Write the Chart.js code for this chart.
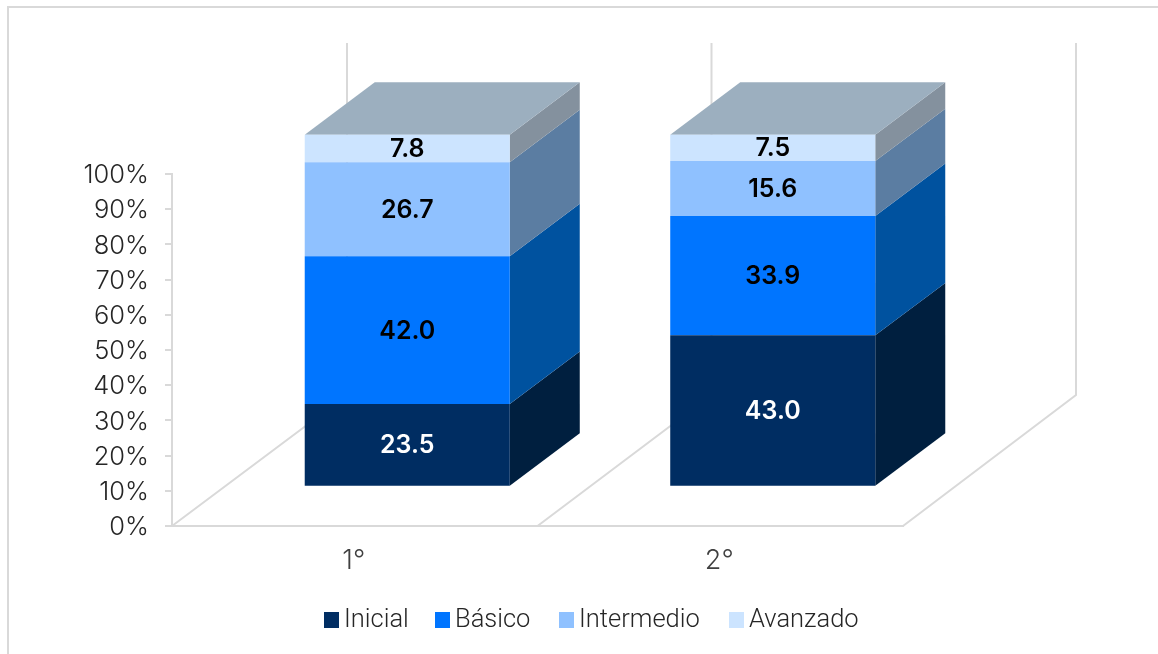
<!DOCTYPE html>
<html>
<head>
<meta charset="utf-8">
<script src="https://cdn.jsdelivr.net/npm/chart.js@4"></script>
<style>
html, body { margin: 0; padding: 0; background: #fff; }
#wrap { position: relative; width: 1158px; height: 654px; overflow: hidden; }
#marco { position: absolute; left: 7px; top: 6px; width: 1200px; height: 800px; border: 2px solid #d9d9d9; box-sizing: border-box; }
canvas { position: absolute; left: 0; top: 0; }
</style>
</head>
<body>
<div id="wrap">
<div id="marco"></div>
<canvas id="chart" width="1158" height="654"></canvas>
</div>
<script>
const grados = ['1°', '2°'];
const inicial = [23.5, 43.0];
const basico = [42.0, 33.9];
const intermedio = [26.7, 15.6];
const avanzado = [7.8, 7.5];
const nombres = ['Inicial', 'Básico', 'Intermedio', 'Avanzado'];
const colores = ['#002d62', '#0075ff', '#8fc1ff', '#cce4ff'];
const lados = ['#001f3f', '#00529f', '#5b7da2', '#84919e'];
const colorTecho = '#9cafbf';
const colorTextos = ['#ffffff', '#000000', '#000000', '#000000'];
const colorLinea = '#d9d9d9';

// fondo de la caja: vector de profundidad del piso (se cierra un poco a la derecha)
const fondosX = [175, 174, 173];
const fondoY = -131;
// la barra va del 30% al 70% de la profundidad
const corrX = 175 * 0.3;
const corrY = fondoY * 0.3;
const profX = 175 * 0.4;
const profY = fondoY * 0.4;

const fuente = '"Inter", sans-serif';

function poligono(ctx, puntos, color) {
    ctx.beginPath();
    ctx.moveTo(puntos[0][0], puntos[0][1]);
    for (let i = 1; i < puntos.length; i++) ctx.lineTo(puntos[i][0], puntos[i][1]);
    ctx.closePath();
    ctx.fillStyle = color;
    ctx.fill();
}

// paredes y piso
const caja = {
    id: 'caja',
    beforeDatasetsDraw(chart) {
        const { ctx, chartArea: { left, right, top, bottom } } = chart;
        const { x } = chart.scales;
        const esquinas = [left, (x.getPixelForValue(0) + x.getPixelForValue(1)) / 2, right];
        ctx.save();
        ctx.strokeStyle = colorLinea;
        ctx.lineWidth = 2;
        esquinas.forEach((px, i) => {
            ctx.beginPath();
            ctx.moveTo(px, bottom);
            ctx.lineTo(px + fondosX[i], bottom + fondoY);
            ctx.lineTo(px + fondosX[i], top + fondoY);
            ctx.stroke();
        });
        ctx.restore();
    }
};

// mueve las barras dentro de la caja y les pone lado y techo
const barras3d = {
    id: 'barras3d',
    beforeDatasetsDraw(chart) {
        const { ctx } = chart;
        ctx.save();
        ctx.translate(corrX, corrY);
        chart.data.datasets.forEach((ds, d) => {
            chart.getDatasetMeta(d).data.forEach(bar => {
                const { x, y, base, width } = bar.getProps(['x', 'y', 'base', 'width'], true);
                const der = x + width / 2;
                const izq = x - width / 2;
                poligono(ctx, [[der, y], [der + profX, y + profY], [der + profX, base + profY], [der, base]], lados[d]);
                if (d === chart.data.datasets.length - 1) {
                    poligono(ctx, [[izq, y], [izq + profX, y + profY], [der + profX, y + profY], [der, y]], colorTecho);
                }
            });
        });
    },
    afterDatasetsDraw(chart) {
        const { ctx } = chart;
        ctx.font = '600 25px ' + fuente;
        ctx.textAlign = 'center';
        ctx.textBaseline = 'middle';
        chart.data.datasets.forEach((ds, d) => {
            chart.getDatasetMeta(d).data.forEach((bar, i) => {
                const { x, y, base } = bar.getProps(['x', 'y', 'base'], true);
                ctx.fillStyle = colorTextos[d];
                ctx.fillText(ds.data[i].toFixed(1), x, (y + base) / 2 + 1);
            });
        });
        ctx.restore();
    }
};

const leyenda = {
    id: 'leyenda',
    afterDraw(chart) {
        const { ctx } = chart;
        const posiciones = [324, 435, 559, 729];
        ctx.save();
        ctx.font = '300 25.5px "Roboto", sans-serif';
        ctx.textBaseline = 'middle';
        ctx.textAlign = 'left';
        chart.data.datasets.forEach((ds, d) => {
            ctx.fillStyle = ds.backgroundColor;
            ctx.fillRect(posiciones[d], 612, 15, 16);
            ctx.fillStyle = '#262626';
            ctx.fillText(ds.label, posiciones[d] + 20, 621);
        });
        ctx.restore();
    }
};

const series = [inicial, basico, intermedio, avanzado];

new Chart(document.getElementById('chart'), {
    type: 'bar',
    data: {
        labels: grados,
        datasets: series.map((valores, d) => ({
            label: nombres[d],
            data: valores,
            backgroundColor: colores[d],
            clip: false
        }))
    },
    options: {
        responsive: false,
        animation: false,
        barPercentage: 0.561,
        categoryPercentage: 1,
        layout: { padding: { left: 8, right: 255, top: 174, bottom: 0 } },
        plugins: {
            legend: { display: false },
            tooltip: { enabled: false }
        },
        scales: {
            x: {
                stacked: true,
                afterFit(axis) { axis.height = 128; },
                grid: { display: false },
                border: { color: colorLinea, width: 2 },
                ticks: { color: '#404040', padding: 11, labelOffset: -1, font: { family: fuente, size: 27, weight: 300 } }
            },
            y: {
                stacked: true,
                min: 0,
                max: 100,
                afterFit(axis) { axis.width = 164; },
                grid: { drawOnChartArea: false, tickLength: 7, color: colorLinea, lineWidth: 2 },
                border: { color: colorLinea, width: 2 },
                ticks: {
                    stepSize: 10,
                    color: '#262626',
                    padding: 16,
                    labelOffset: 1.5,
                    font: { family: fuente, size: 25.5, weight: 300 },
                    callback: v => v + '%'
                }
            }
        }
    },
    plugins: [caja, barras3d, leyenda]
});
</script>
</body>
</html>
